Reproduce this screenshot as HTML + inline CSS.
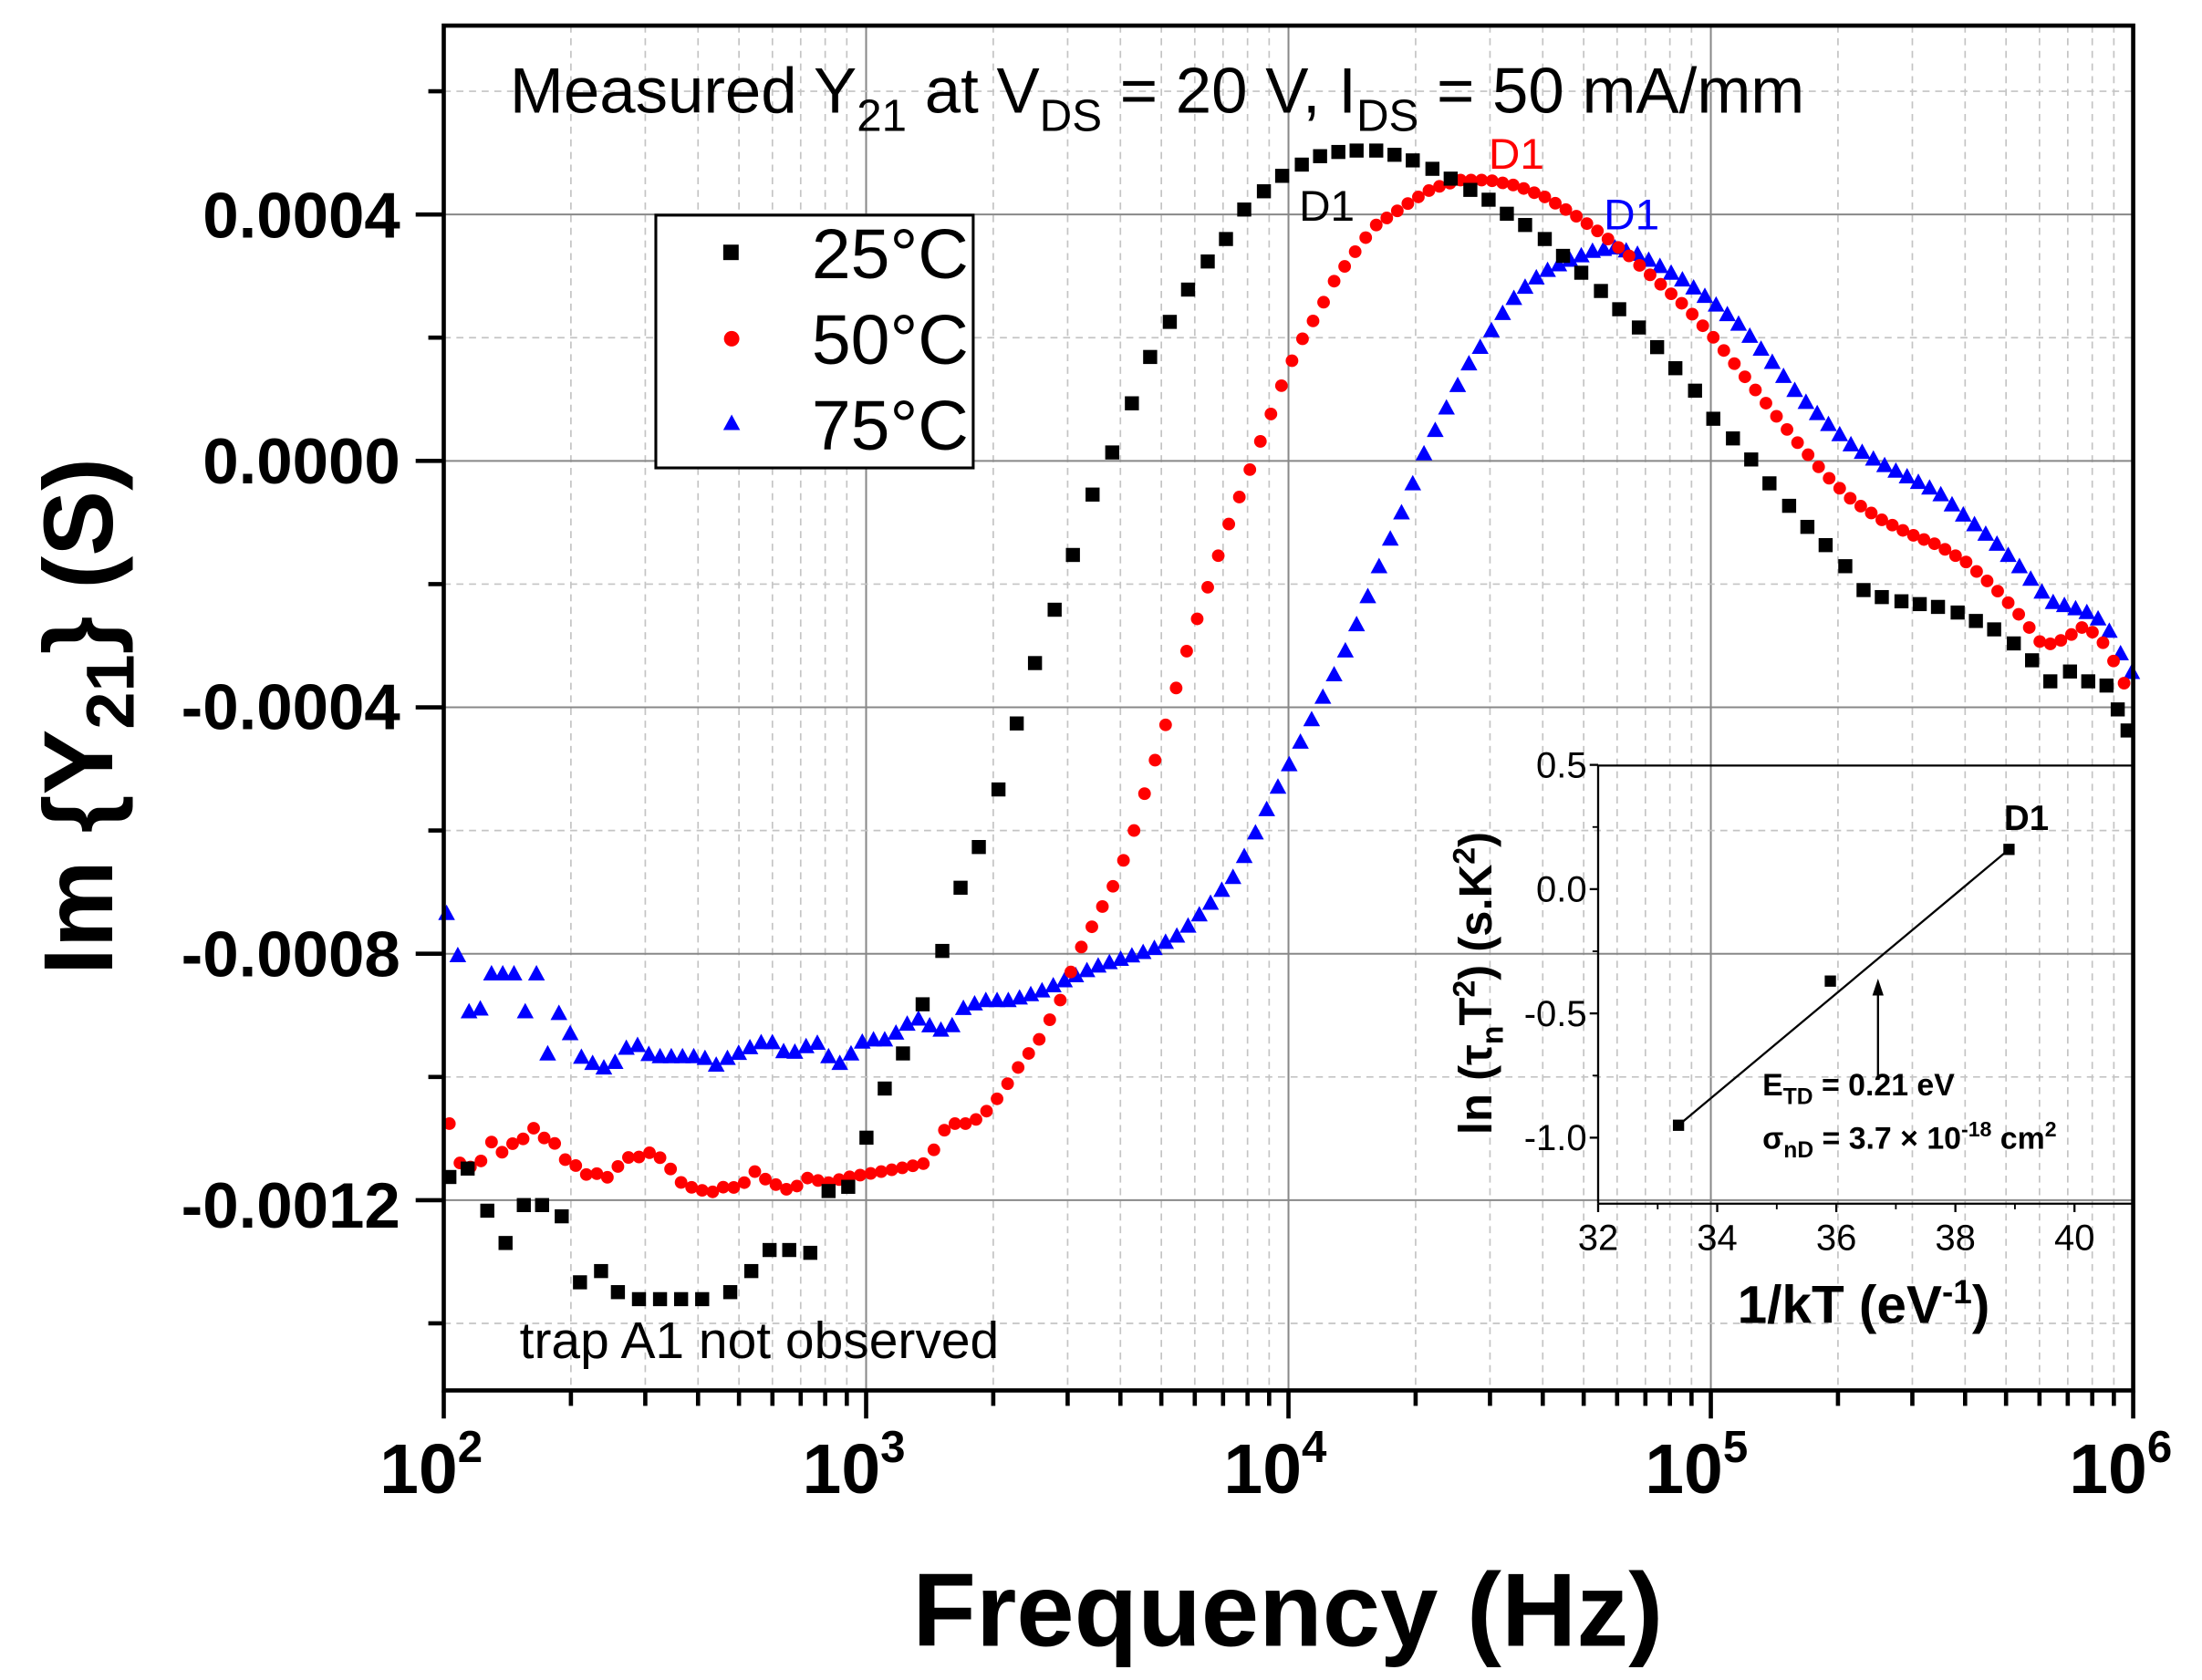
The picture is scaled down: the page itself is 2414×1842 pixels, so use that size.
<!DOCTYPE html>
<html><head><meta charset="utf-8"><style>
html,body{margin:0;padding:0;background:#fff}
svg{display:block}
text{font-family:"Liberation Sans",Arial,sans-serif}
</style></head><body>
<svg id="s" width="2414" height="1842" viewBox="0 0 1568 1196" xmlns="http://www.w3.org/2000/svg">
<rect width="1568" height="1196" fill="#fff"/>
<g id="grid"></g>
<g id="data"></g>
<rect x="316" y="18" width="1203" height="972" fill="none" stroke="#000" stroke-width="3"/>
<g id="ticks" stroke="#000" stroke-width="3"></g>
<text x="363" y="80" font-size="46">Measured Y<tspan font-size="32" dy="13">21</tspan><tspan dy="-13"> at V</tspan><tspan font-size="32" dy="13">DS</tspan><tspan dy="-13"> = 20 V, I</tspan><tspan font-size="32" dy="13">DS</tspan><tspan dy="-13"> = 50 mA/mm</tspan></text>
<text x="925" y="157" font-size="31" fill="#000">D1</text>
<text x="1060" y="120" font-size="31" fill="#f00">D1</text>
<text x="1142" y="163" font-size="31" fill="#00f">D1</text>
<text x="370" y="967" font-size="37">trap A1 not observed</text>
<rect x="467" y="153" width="226" height="180" fill="#fff" stroke="#000" stroke-width="2"/>
<rect x="515" y="174" width="11" height="11" fill="#000"/>
<circle cx="521" cy="241" r="5.5" fill="#f00"/>
<polygon points="521,295 527,306 515,306" fill="#00f"/>
<text x="578" y="198" font-size="50">25°C</text>
<text x="578" y="259" font-size="50">50°C</text>
<text x="578" y="320" font-size="50">75°C</text>
<g font-size="46" font-weight="bold" text-anchor="end">
<text x="285" y="169">0.0004</text>
<text x="285" y="344">0.0000</text>
<text x="285" y="519">-0.0004</text>
<text x="285" y="695">-0.0008</text>
<text x="285" y="874">-0.0012</text>
</g>
<g font-size="50" font-weight="bold" text-anchor="middle">
<text x="307" y="1063">10<tspan font-size="32" dy="-22">2</tspan></text>
<text x="608" y="1063">10<tspan font-size="32" dy="-22">3</tspan></text>
<text x="908" y="1063">10<tspan font-size="32" dy="-22">4</tspan></text>
<text x="1208" y="1063">10<tspan font-size="32" dy="-22">5</tspan></text>
<text x="1510" y="1063">10<tspan font-size="32" dy="-22">6</tspan></text>
</g>
<text x="917" y="1172" font-size="74" font-weight="bold" text-anchor="middle">Frequency (Hz)</text>
<text transform="translate(80,510) rotate(-90)" font-size="70" font-weight="bold" text-anchor="middle">Im {Y<tspan font-size="48" dy="15">21</tspan><tspan dy="-15">} (S)</tspan></text>
<g id="inset"></g>
</svg>
<script>
var NS="http://www.w3.org/2000/svg";
function el(p,t,a){var e=document.createElementNS(NS,t);for(var k in a)e.setAttribute(k,a[k]);p.appendChild(e);return e;}
var G=document.getElementById('grid'),T=document.getElementById('ticks'),D=document.getElementById('data'),I=document.getElementById('inset');
var L=316,R=1519,TOP=18,B=990,dec=(R-L)/4;
for(var d=0;d<4;d++){for(var m=1;m<10;m++){var x=L+dec*(d+Math.log10(m));
 if(m==1){if(d>0)el(G,'line',{x1:x,y1:TOP,x2:x,y2:B,stroke:'#888','stroke-width':1.3});el(T,'line',{x1:x,y1:B,x2:x,y2:B+20});}
 else{el(G,'line',{x1:x,y1:TOP,x2:x,y2:B,stroke:'#c4c4c4','stroke-width':1.1,'stroke-dasharray':'5,4'});el(T,'line',{x1:x,y1:B,x2:x,y2:B+11});}}}
el(T,'line',{x1:R,y1:B,x2:R,y2:B+20});
function yv(v){return 328-v/0.0004*175.5;}
for(var k=-7;k<=3;k++){var v=k*0.0002,y=yv(v);if(y<TOP+2||y>B-2)continue;
 if(k%2==0){el(G,'line',{x1:L,y1:y,x2:R,y2:y,stroke:'#888','stroke-width':1.3});el(T,'line',{x1:L-20,y1:y,x2:L,y2:y});}
 else{el(G,'line',{x1:L,y1:y,x2:R,y2:y,stroke:'#c4c4c4','stroke-width':1.1,'stroke-dasharray':'5,4'});el(T,'line',{x1:L-11,y1:y,x2:L,y2:y});}}
function interp(kp,step){var out=[];for(var x=kp[0][0];x<=kp[kp.length-1][0];x+=step){for(var i=0;i<kp.length-1;i++){if(x>=kp[i][0]&&x<=kp[i+1][0]){var t=(x-kp[i][0])/(kp[i+1][0]-kp[i][0]);out.push([x,kp[i][1]+t*(kp[i+1][1]-kp[i][1])]);break;}}}return out;}
var blk=[[320,838],[333,832],[347,862],[360,885],[373,858],[386,858],[400,866],[413,913],[428,905],[440,920],[455,925],[470,925],[485,925],[500,925],[520,920],[535,905],[548,890],[562,890],[577,892],[590,848],[604,845],[617,810],[630,775],[643,750],[657,715],[671,677],[684,632],[697,603],[711,562],[724,515],[737,472],[751,434],[764,395],[778,352],[792,322],[806,287],[819,254],[833,229],[846,206],[860,186],[873,170],[886,149],[900,136],[913,125],[927,117],[940,111],[953,108],[966,107],[980,107],[993,110],[1006,114],[1020,120],[1033,127],[1047,135],[1060,142],[1073,152],[1086,160],[1100,170],[1113,182],[1126,194],[1140,207],[1153,220],[1167,233],[1180,247],[1193,262],[1207,278],[1220,298],[1234,312],[1247,327],[1260,344],[1274,360],[1287,375],[1300,388],[1314,403],[1327,420],[1340,425],[1354,428],[1367,430],[1380,432],[1394,436],[1407,442],[1420,448],[1434,458],[1447,470],[1460,485],[1474,478],[1487,485],[1500,488],[1508,505],[1515,520]];
var red=[[320,800],[325,828],[333,828],[340,838],[347,806],[355,825],[362,812],[370,818],[377,798],[385,812],[392,807],[400,826],[407,825],[415,838],[422,833],[430,840],[437,835],[445,823],[452,826],[460,820],[467,822],[475,828],[482,840],[490,845],[497,846],[505,850],[512,846],[520,844],[527,848],[535,832],[542,838],[550,842],[557,846],[565,848],[572,838],[580,840],[590,842],[604,838],[617,836],[640,832],[660,828],[675,800],[690,800],[700,794],[712,780],[725,760],[740,740],[755,712],[767,680],[780,655],[793,630],[805,600],[815,565],[826,530],[836,495],[846,460],[856,430],[866,400],[876,370],[886,345],[896,318],[906,292],[916,265],[928,240],[940,220],[950,200],[960,186],[970,172],[980,160],[992,152],[1005,143],[1020,134],[1040,128],[1060,128],[1080,132],[1100,140],[1120,152],[1140,166],[1160,182],[1180,200],[1200,218],[1220,240],[1240,265],[1260,290],[1280,315],[1300,338],[1320,357],[1340,370],[1360,380],[1380,388],[1400,400],[1420,418],[1440,440],[1455,460],[1470,455],[1485,445],[1500,460],[1519,500]];
var blu=[[318,650],[326,680],[334,720],[342,718],[350,693],[358,693],[366,693],[374,720],[382,693],[390,750],[400,714],[410,750],[420,756],[430,760],[440,755],[450,740],[460,750],[470,752],[480,752],[490,752],[500,752],[510,758],[520,752],[530,748],[540,742],[550,742],[560,750],[570,748],[580,740],[590,752],[600,758],[612,742],[622,740],[632,740],[642,732],[652,724],[662,730],[675,735],[685,718],[700,712],[720,712],[740,706],[760,697],[780,688],[800,682],[820,676],[840,665],[860,645],[880,622],[900,580],[920,540],[940,500],[955,470],[970,435],[985,395],[1000,360],[1015,320],[1030,290],[1045,260],[1060,238],[1075,215],[1090,200],[1105,190],[1120,184],[1135,178],[1150,176],[1165,180],[1180,188],[1200,200],[1220,215],[1240,232],[1260,255],[1280,280],[1300,300],[1320,318],[1340,330],[1360,340],[1380,350],[1400,368],[1420,385],[1440,405],[1460,428],[1475,432],[1490,437],[1500,445],[1510,465],[1519,480]];
interp(blu,8).forEach(function(p){if(p[0]>R)return;el(D,'polygon',{points:(p[0])+','+(p[1]-6)+' '+(p[0]+6)+','+(p[1]+5)+' '+(p[0]-6)+','+(p[1]+5),fill:'#00f'});});
interp(red,7.5).forEach(function(p){el(D,'circle',{cx:p[0],cy:p[1],r:4.5,fill:'#f00'});});
blk.forEach(function(p){el(D,'rect',{x:p[0]-5,y:p[1]-5,width:10,height:10,fill:'#000'});});
var iL=1138,iR=1519,iT=545,iB=857;
function ix(v){return 1138+(v-32)*42.4;} function iy(v){return 633-v*177;}
el(I,'line',{x1:iL,y1:iT,x2:iR,y2:iT,stroke:'#000','stroke-width':1.5});
el(I,'line',{x1:iL,y1:iT,x2:iL,y2:iB,stroke:'#000','stroke-width':1.5});
el(I,'line',{x1:iL,y1:iB,x2:iR,y2:iB,stroke:'#000','stroke-width':1.5});
[0.5,0,-0.5,-1].forEach(function(v){el(I,'line',{x1:iL-6,y1:iy(v),x2:iL,y2:iy(v),stroke:'#000','stroke-width':1.5});var t=el(I,'text',{x:iL-8,y:iy(v)+9,'font-size':26,'text-anchor':'end'});t.textContent=v==0?'0.0':v.toFixed(1);});
[0.25,-0.25,-0.75].forEach(function(v){el(I,'line',{x1:iL-4,y1:iy(v),x2:iL,y2:iy(v),stroke:'#000','stroke-width':1.2});});
[32,34,36,38,40].forEach(function(v){el(I,'line',{x1:ix(v),y1:iB,x2:ix(v),y2:iB+6,stroke:'#000','stroke-width':1.5});var t=el(I,'text',{x:ix(v),y:iB+33,'font-size':26,'text-anchor':'middle'});t.textContent=v;});
[33,35,37,39].forEach(function(v){el(I,'line',{x1:ix(v),y1:iB,x2:ix(v),y2:iB+4,stroke:'#000','stroke-width':1.2});});
el(I,'line',{x1:ix(33.35),y1:iy(-0.95),x2:ix(38.9),y2:iy(0.16),stroke:'#000','stroke-width':1.5});
[[33.35,-0.95],[35.9,-0.37],[38.9,0.16]].forEach(function(p){el(I,'rect',{x:ix(p[0])-4,y:iy(p[1])-4,width:8,height:8,fill:'#000'});});
el(I,'line',{x1:ix(36.7),y1:iy(-0.76),x2:ix(36.7),y2:iy(-0.4),stroke:'#000','stroke-width':1.5});
el(I,'polygon',{points:ix(36.7)+','+iy(-0.36)+' '+(ix(36.7)+4)+','+(iy(-0.36)+12)+' '+(ix(36.7)-4)+','+(iy(-0.36)+12),fill:'#000'});
I.insertAdjacentHTML('beforeend','<text x="1427" y="591" font-size="25" font-weight="bold">D1</text>'+
'<text x="1255" y="780" font-size="22" font-weight="bold">E<tspan font-size="16" dy="6">TD</tspan><tspan dy="-6"> = 0.21 eV</tspan></text>'+
'<text x="1255" y="818" font-size="22" font-weight="bold">σ<tspan font-size="16" dy="6">nD</tspan><tspan dy="-6"> = 3.7 × 10</tspan><tspan font-size="15" dy="-9">-18</tspan><tspan dy="9"> cm</tspan><tspan font-size="15" dy="-9">2</tspan></text>'+
'<text transform="translate(1062,700) rotate(-90)" font-size="33" font-weight="bold" text-anchor="middle">ln (τ<tspan font-size="22" dy="8">n</tspan><tspan dy="-8">T</tspan><tspan font-size="22" dy="-12">2</tspan><tspan dy="12">) (s.K</tspan><tspan font-size="22" dy="-12">2</tspan><tspan dy="12">)</tspan></text>'+
'<text x="1327" y="942" font-size="38" font-weight="bold" text-anchor="middle">1/kT (eV<tspan font-size="24" dy="-14">-1</tspan><tspan dy="14">)</tspan></text>');
</script>
</body></html>
